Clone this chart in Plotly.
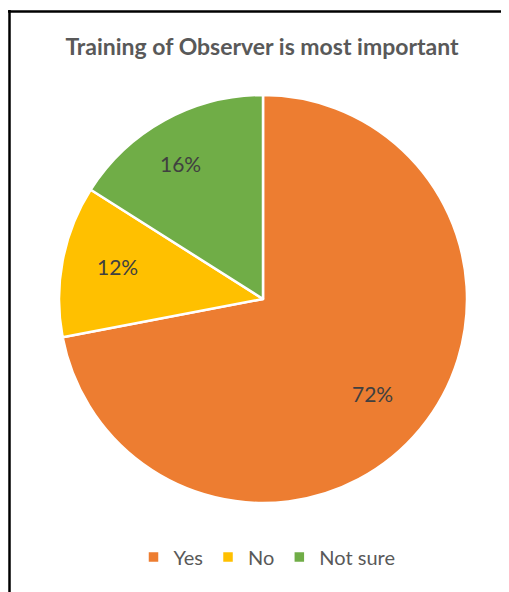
import math
import plotly.graph_objects as go

categories = ["Yes", "No", "Not sure"]
shares = [72, 12, 16]
slice_colors = ["#ED7D31", "#FFC000", "#70AD47"]

# page body adds an 8px margin, so the figure starts 8px into the window
W, H = 501, 584
cx, cy, r = 255, 291, 204
LABEL_FONT = "Lato, Open Sans, sans-serif"

fig = go.Figure(
    go.Pie(
        labels=categories,
        values=shares,
        sort=False,
        direction="clockwise",
        rotation=0,
        marker=dict(colors=slice_colors, line=dict(color="white", width=2.5)),
        textinfo="none",
        domain=dict(
            x=[(cx - r) / W, (cx + r) / W],
            y=[1 - (cy + r) / H, 1 - (cy - r) / H],
        ),
        hoverinfo="label+percent",
    )
)

# data labels, placed along each slice's mid-angle like Excel's best fit
total = sum(shares)
start = 0
for name, value in zip(categories, shares):
    mid = (start + value / 2) / total * 2 * math.pi
    start += value
    dist = 0.84 * r
    px_x = cx + dist * math.sin(mid)
    px_y = cy - dist * math.cos(mid)
    fig.add_annotation(
        text=f"{round(value / total * 100)}%",
        x=px_x / W,
        y=1 - px_y / H,
        xref="paper",
        yref="paper",
        showarrow=False,
        font=dict(family=LABEL_FONT, size=21, color="#404040"),
    )

fig.update_layout(
    width=W,
    height=H,
    paper_bgcolor="white",
    plot_bgcolor="white",
    margin=dict(l=0, r=0, t=0, b=0),
    font=dict(family=LABEL_FONT, color="#595959"),
    title=dict(
        text="<b>Training of Observer is most important</b>",
        x=254 / W,
        xanchor="center",
        y=1 - 39 / H,
        yanchor="middle",
        font=dict(size=23, color="#595959"),
    ),
    legend=dict(
        orientation="h",
        x=259 / W,
        xanchor="center",
        y=1 - 549 / H,
        yanchor="middle",
        font=dict(size=20, color="#595959"),
        itemwidth=30,
    ),
    shapes=[
        dict(type="line", xref="paper", yref="paper", x0=1.5 / W, x1=1.5 / W,
             y0=0, y1=1 - 2 / H, line=dict(color="black", width=2.5)),
        dict(type="line", xref="paper", yref="paper", x0=0, x1=1,
             y0=1 - 3.5 / H, y1=1 - 3.5 / H, line=dict(color="black", width=2.5)),
    ],
)

fig.write_html("out.html", config={"displayModeBar": False})
